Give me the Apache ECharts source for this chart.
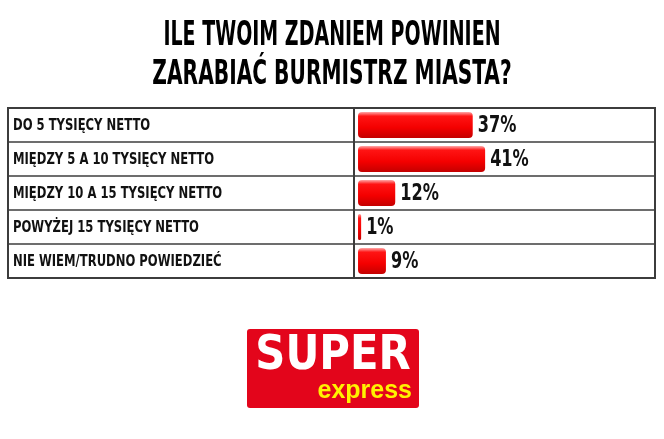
<!DOCTYPE html>
<html>
<head>
<meta charset="utf-8">
<script src="https://cdn.jsdelivr.net/npm/echarts@6/dist/echarts.min.js"></script>
<style>html,body{margin:0;padding:0;background:#fff}#c{width:664px;height:439px}</style>
</head>
<body>
<div id="c"></div>
<script>
const titleLines = ['ILE TWOIM ZDANIEM POWINIEN', 'ZARABIAĆ BURMISTRZ MIASTA?'];
const categories = ['DO 5 TYSIĘCY NETTO', 'MIĘDZY 5 A 10 TYSIĘCY NETTO', 'MIĘDZY 10 A 15 TYSIĘCY NETTO', 'POWYŻEJ 15 TYSIĘCY NETTO', 'NIE WIEM/TRUDNO POWIEDZIEĆ'];
const values = [37, 41, 12, 1, 9];
const logoTop = 'SUPER';
const logoBottom = 'express';

const NARROW = "'Liberation Sans Narrow', 'DejaVu Sans Condensed', sans-serif";
const BORDER = '#3c3c3c';

const chart = echarts.init(document.getElementById('c'), null, {renderer: 'canvas'});
const barGrad = new echarts.graphic.LinearGradient(0, 0, 0, 1, [
  {offset: 0, color: '#ffa8a8'},
  {offset: 0.16, color: '#ff1414'},
  {offset: 0.6, color: '#f40000'},
  {offset: 1, color: '#c40000'}
]);

chart.setOption({
  backgroundColor: '#fff',
  animation: false,
  grid: [
    {left: 8, top: 108, width: 346, height: 170, show: true, borderColor: BORDER, borderWidth: 2, containLabel: false},
    {left: 354, top: 108, right: 9, height: 170, show: true, borderColor: BORDER, borderWidth: 2, containLabel: false}
  ],
  xAxis: [
    {gridIndex: 0, type: 'value', min: 0, max: 1, show: false},
    {gridIndex: 1, type: 'value', min: -1.3, max: 95.8, show: false}
  ],
  yAxis: [
    {gridIndex: 0, type: 'category', data: categories, inverse: true,
     axisLine: {show: false}, axisTick: {show: false}, axisLabel: {show: false},
     splitLine: {show: true, lineStyle: {color: BORDER, width: 1.5}}},
    {gridIndex: 1, type: 'category', data: categories, inverse: true,
     axisLine: {show: false}, axisTick: {show: false}, axisLabel: {show: false},
     splitLine: {show: true, lineStyle: {color: BORDER, width: 1.5}}}
  ],
  series: [
    {
      type: 'bar', xAxisIndex: 1, yAxisIndex: 1, data: values, barWidth: 26,
      itemStyle: {color: barGrad, borderRadius: 4},
      label: {show: false}
    },
    {
      type: 'custom', xAxisIndex: 0, yAxisIndex: 0,
      data: categories.map((c, i) => [0, i]),
      renderItem: function (params, api) {
        const p = api.coord([0, api.value(1)]);
        return {type: 'text', x: 13, y: p[1] + 1, scaleX: 0.86,
          style: {text: categories[params.dataIndex], fill: '#111',
            font: 'bold 15px ' + NARROW, textAlign: 'left', textVerticalAlign: 'middle'}};
      }
    },
    {
      type: 'custom', xAxisIndex: 1, yAxisIndex: 1,
      data: values.map((v, i) => [v, i]),
      renderItem: function (params, api) {
        const p = api.coord([api.value(0), api.value(1)]);
        return {type: 'text', x: p[0] + 5, y: p[1] + 1, scaleX: 0.78,
          style: {text: api.value(0) + '%', fill: '#111',
            font: 'bold 23px ' + NARROW, textAlign: 'left', textVerticalAlign: 'middle'}};
      }
    }
  ],
  graphic: [
    {type: 'text', x: 332, y: 36, scaleX: 0.64, style: {text: titleLines[0], fill: '#000', font: "bold 33px " + NARROW, textAlign: 'center', textVerticalAlign: 'middle'}},
    {type: 'text', x: 332, y: 75, scaleX: 0.68, style: {text: titleLines[1], fill: '#000', font: "bold 33px " + NARROW, textAlign: 'center', textVerticalAlign: 'middle'}},
    {type: 'rect', shape: {x: 247, y: 329, width: 172, height: 79, r: 3}, style: {fill: '#e3051b'}},
    {type: 'text', x: 333, y: 357, scaleX: 0.87, style: {text: logoTop, fill: '#fff', font: "bold 48px 'DejaVu Sans', sans-serif", textAlign: 'center', textVerticalAlign: 'middle'}},
    {type: 'text', x: 412, y: 391, style: {text: logoBottom, fill: '#fff200', font: "bold 25px 'Liberation Sans', Arial, sans-serif", textAlign: 'right', textVerticalAlign: 'middle'}}
  ]
});
</script>
</body>
</html>
